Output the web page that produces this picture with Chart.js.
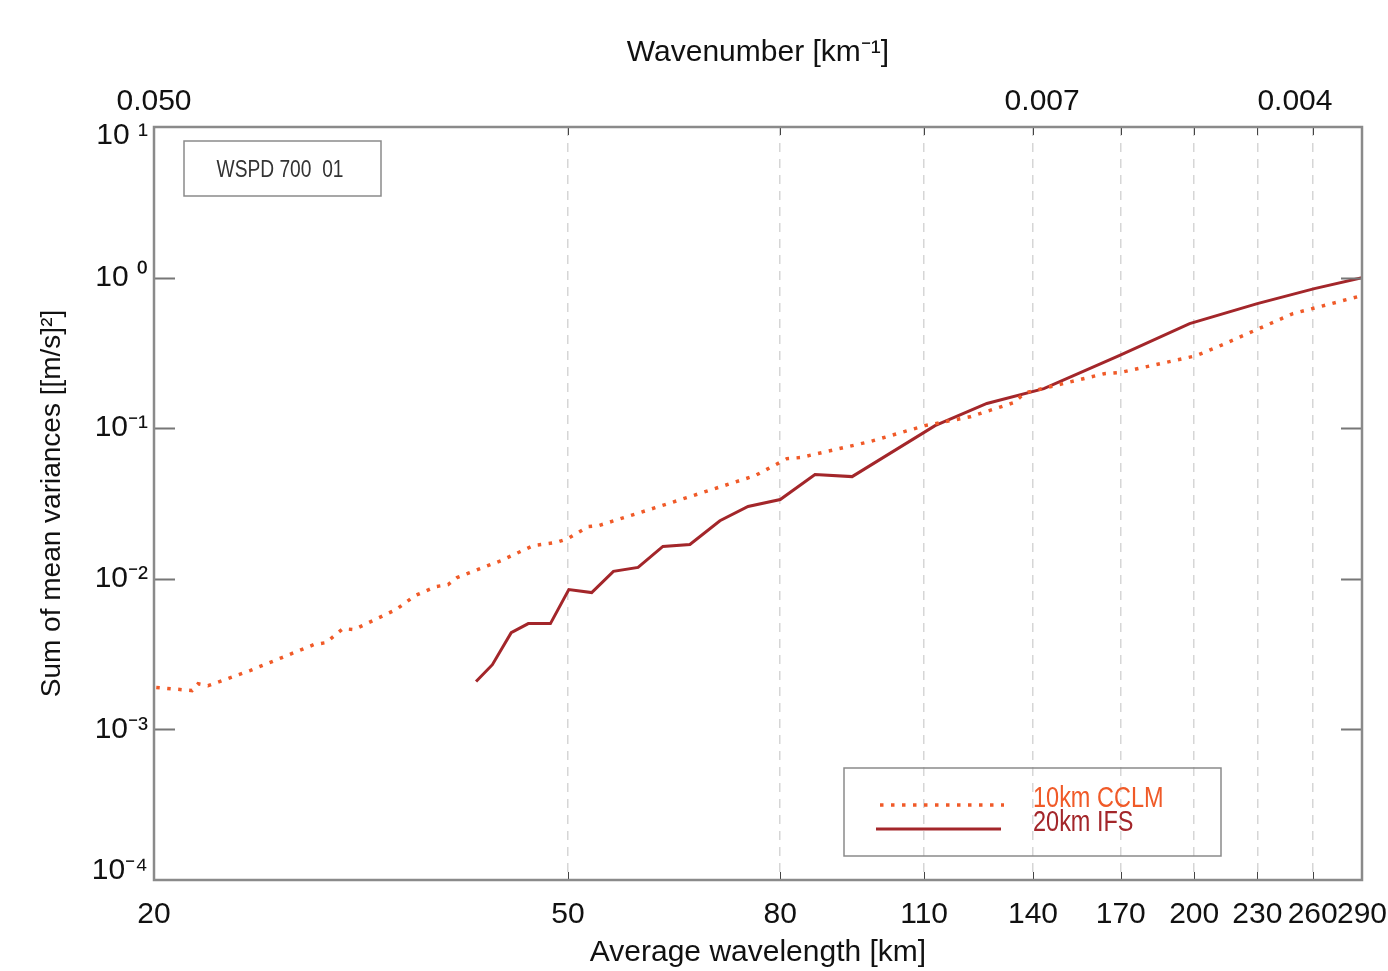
<!DOCTYPE html>
<html>
<head>
<meta charset="utf-8">
<script src="https://cdn.jsdelivr.net/npm/chart.js@4.4.1/dist/chart.umd.min.js"></script>
<style>
html, body { margin: 0; padding: 0; background: #fff; }
#wrap { width: 1388px; height: 971px; }
</style>
</head>
<body>
<div id="wrap"><canvas id="spectrum"></canvas></div>
<script>
// wavelength [km] / sum of mean variances [(m/s)^2]
const ifsWavelength = [40.8, 42.3, 44.1, 45.8, 48.1, 50.1, 52.7, 55.3, 58.4, 61.7, 65.5, 70.0, 74.5, 80.0,
    86.4, 93.8, 112.7, 126.4, 143.4, 169.4, 198, 230, 261, 290];
const ifsVariance = [0.00208, 0.00269, 0.00439, 0.00504, 0.00504, 0.00848, 0.0081, 0.0112, 0.0119, 0.0164,
    0.0169, 0.0243, 0.0302, 0.0336, 0.0492, 0.0477, 0.104, 0.146, 0.183, 0.303, 0.495, 0.672, 0.845, 1.0];

const cclmWavelength = [20.1, 21.76, 22.05, 22.54, 24.74, 26.55, 28.5, 29.27, 30.39, 31.14, 34.18, 35.64,
    37.34, 38.35, 39.12, 43.12, 46.28, 48.7, 50.0, 52.28, 53.57, 62.0, 75.66, 81.21, 83.59, 97.6, 110.2,
    121.8, 134.2, 137.6, 163.9, 169.7, 200.9, 210.9, 248.9, 262.0, 290];
const cclmVariance = [0.0019, 0.00181, 0.00201, 0.00195, 0.00246, 0.003, 0.00366, 0.00377, 0.00467, 0.0046,
    0.00625, 0.00773, 0.00888, 0.00915, 0.0102, 0.0132, 0.0166, 0.0174, 0.0185, 0.0222, 0.0226, 0.0311,
    0.0484, 0.0628, 0.0638, 0.0815, 0.104, 0.119, 0.148, 0.172, 0.23, 0.234, 0.303, 0.348, 0.577, 0.632, 0.76];

const xTicks = [20, 50, 80, 110, 140, 170, 200, 230, 260, 290];
const yTicks = [1e-4, 1e-3, 1e-2, 1e-1, 1, 10];
const topTicks = [0.050, 0.007, 0.004];   // wavenumber [1/km]

const sans = "'Liberation Sans', Arial, sans-serif";
const supMap = {'-': '\u207B', '0': '\u2070', '1': '\u00B9', '2': '\u00B2', '3': '\u00B3', '4': '\u2074'};
const sup = s => String(s).split('').map(c => supMap[c]).join('');

// squeezed text, the original uses a narrow face
function narrowText(ctx, text, x, y, squeeze) {
    ctx.save();
    ctx.translate(x, y);
    ctx.scale(squeeze, 1);
    ctx.fillText(text, 0, 0);
    ctx.restore();
}

const boxes = {
    id: 'boxes',
    afterDraw(chart) {
        const {ctx, chartArea: a, scales} = chart;
        ctx.save();
        // inner ticks
        ctx.strokeStyle = '#777';
        ctx.lineWidth = 2;
        yTicks.slice(1, -1).forEach(v => {
            const y = Math.round(scales.y.getPixelForValue(v)) + 0.5;
            ctx.beginPath();
            ctx.moveTo(a.left, y); ctx.lineTo(a.left + 21, y);
            ctx.moveTo(a.right - 21, y); ctx.lineTo(a.right, y);
            ctx.stroke();
        });
        ctx.strokeStyle = '#444';
        ctx.lineWidth = 1;
        xTicks.slice(1, -1).forEach(v => {
            const x = Math.round(scales.x.getPixelForValue(v)) + 0.5;
            ctx.beginPath();
            ctx.moveTo(x, a.top); ctx.lineTo(x, a.top + 8);
            ctx.moveTo(x, a.bottom); ctx.lineTo(x, a.bottom - 8);
            ctx.stroke();
        });
        // frame
        ctx.strokeStyle = '#8a8a8a';
        ctx.lineWidth = 2.5;
        ctx.strokeRect(a.left, a.top, a.right - a.left, a.bottom - a.top);

        // label box
        ctx.lineWidth = 1.5;
        ctx.strokeRect(184, 141, 197, 55);
        ctx.fillStyle = '#333';
        ctx.font = '24px ' + sans;
        ctx.textAlign = 'center';
        ctx.textBaseline = 'middle';
        narrowText(ctx, 'WSPD 700  01', 280, 170, 0.8);

        // legend
        ctx.strokeRect(844, 768, 377, 88);
        ctx.lineCap = 'butt';
        ctx.strokeStyle = '#f05a28';
        ctx.lineWidth = 3.5;
        ctx.setLineDash([3.5, 7.5]);
        ctx.beginPath(); ctx.moveTo(880, 805); ctx.lineTo(1004, 805); ctx.stroke();
        ctx.setLineDash([]);
        ctx.strokeStyle = '#a3262a';
        ctx.lineWidth = 3;
        ctx.beginPath(); ctx.moveTo(876, 829); ctx.lineTo(1001, 829); ctx.stroke();
        ctx.font = '29px ' + sans;
        ctx.textAlign = 'left';
        ctx.textBaseline = 'alphabetic';
        ctx.fillStyle = '#f05a28';
        narrowText(ctx, '10km CCLM', 1033, 807, 0.81);
        ctx.fillStyle = '#a3262a';
        narrowText(ctx, '20km IFS', 1033, 831, 0.81);
        ctx.restore();
    }
};

new Chart(document.getElementById('spectrum'), {
    type: 'line',
    data: {
        datasets: [{
            label: '10km CCLM',
            data: cclmWavelength.map((x, i) => ({x: x, y: cclmVariance[i]})),
            borderColor: '#f05a28',
            borderWidth: 3.5,
            borderDash: [3.5, 7.5],
            pointRadius: 0,
            fill: false,
            tension: 0
        }, {
            label: '20km IFS',
            data: ifsWavelength.map((x, i) => ({x: x, y: ifsVariance[i]})),
            borderColor: '#a3262a',
            borderWidth: 3,
            pointRadius: 0,
            fill: false,
            tension: 0
        }]
    },
    options: {
        responsive: true,
        maintainAspectRatio: false,
        animation: false,
        devicePixelRatio: 1,
        layout: {padding: {right: 26}},
        plugins: {legend: {display: false}, tooltip: {enabled: false}},
        scales: {
            x: {
                type: 'logarithmic', position: 'bottom', min: 20, max: 290,
                afterBuildTicks: s => { s.ticks = xTicks.map(v => ({value: v})); },
                afterFit: s => { s.height = 91; s.paddingLeft = 0; s.paddingRight = 0; },
                ticks: {autoSkip: false, maxRotation: 0, minRotation: 0, padding: 17, color: '#111',
                    font: {family: sans, size: 30}, callback: v => String(v)},
                grid: {color: '#d6d6d6', lineWidth: 1.5, drawTicks: false},
                border: {display: false, dash: [9, 7]},
                title: {display: true, text: 'Average wavelength [km]', color: '#111',
                    font: {family: sans, size: 30, lineHeight: 1}, padding: {bottom: 3}}
            },
            x2: {
                type: 'logarithmic', axis: 'x', position: 'top', min: 20, max: 290,
                afterBuildTicks: s => { s.ticks = topTicks.map(k => ({value: 1 / k})); },
                afterFit: s => { s.height = 127; s.paddingLeft = 0; s.paddingRight = 0; },
                ticks: {autoSkip: false, maxRotation: 0, minRotation: 0, padding: 7, color: '#111',
                    font: {family: sans, size: 30}, callback: v => (1 / v).toFixed(3)},
                grid: {display: false, drawTicks: false},
                border: {display: false},
                title: {display: true, text: 'Wavenumber [km\u207B\u00B9]', color: '#111',
                    font: {family: sans, size: 30, lineHeight: 1}, padding: {top: 38}}
            },
            y: {
                type: 'logarithmic', position: 'left', min: 1e-4, max: 10,
                afterBuildTicks: s => { s.ticks = yTicks.map(v => ({value: v})); },
                afterFit: s => { s.width = 154; s.paddingTop = 0; s.paddingBottom = 0; },
                ticks: {padding: 6, color: '#111', font: {family: sans, size: 30, lineHeight: 0.6},
                    callback: (v, i) => {
                        const e = Math.round(Math.log10(v));
                        const label = e >= 0 ? '10 ' + sup(e) : '10' + sup(e);
                        // edge labels sit inside the axis range, as in the original
                        if (i === 0) return [label, ''];
                        if (i === yTicks.length - 1) return ['', label];
                        return label;
                    }},
                grid: {display: false, drawTicks: false},
                border: {display: false},
                title: {display: true, text: 'Sum of mean variances [[m/s]\u00B2]', color: '#111',
                    font: {family: sans, size: 28, lineHeight: 1}, padding: {top: 38}}
            }
        }
    },
    plugins: [boxes]
});
</script>
</body>
</html>
